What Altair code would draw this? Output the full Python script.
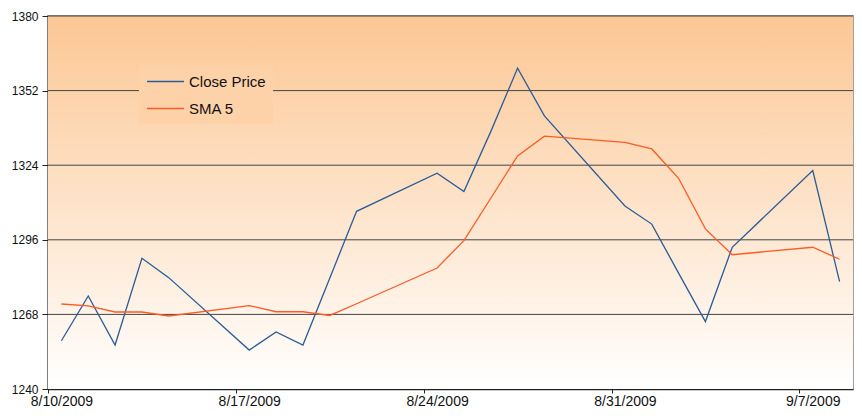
import altair as alt
import pandas as pd

dates = ["8/10/2009", "8/11/2009", "8/12/2009", "8/13/2009", "8/14/2009",
         "8/17/2009", "8/18/2009", "8/19/2009", "8/20/2009", "8/21/2009",
         "8/24/2009", "8/25/2009", "8/26/2009", "8/27/2009", "8/28/2009",
         "8/31/2009", "9/1/2009", "9/2/2009", "9/3/2009", "9/4/2009",
         "9/7/2009", "9/8/2009"]
close_price = [1258.1, 1274.9, 1256.5, 1289.1, 1281.8,
               1254.6, 1261.4, 1256.5, 1281.6, 1306.7,
               1321.0, 1314.1, 1336.6, 1360.4, 1342.5,
               1308.7, 1301.9, 1283.5, 1265.3, 1293.2,
               1322.0, 1280.3]
sma5 = [1271.9, 1271.2, 1268.9, 1268.9, 1267.4,
        1271.3, 1269.0, 1269.0, 1267.6, 1272.0,
        1285.4, 1295.7, 1311.6, 1327.5, 1334.9,
        1332.6, 1330.1, 1319.1, 1300.1, 1290.4,
        1293.2, 1288.7]
series_names = ["Close Price", "SMA 5"]
series_colors = ["#2A5C96", "#FF5A24"]
y_ticks = [1240, 1268, 1296, 1324, 1352, 1380]

rows = []
for d, c, s in zip(dates, close_price, sma5):
    rows.append({"date": d, "series": series_names[0], "value": c})
    rows.append({"date": d, "series": series_names[1], "value": s})
df = pd.DataFrame(rows)
grid_df = pd.DataFrame({"value": y_ticks[1:]})

x_ticks = [alt.DateTime(year=2009, month=8, date=10),
           alt.DateTime(year=2009, month=8, date=17),
           alt.DateTime(year=2009, month=8, date=24),
           alt.DateTime(year=2009, month=8, date=31),
           alt.DateTime(year=2009, month=9, date=7)]

W, H = 805, 373

y_scale = alt.Scale(domain=[1240, 1380], nice=False, zero=False)
x_scale = alt.Scale(domain=[alt.DateTime(year=2009, month=8, date=10),
                            alt.DateTime(year=2009, month=9, date=9)])

gradient = alt.LinearGradient(
    gradient="linear",
    stops=[alt.GradientStop(color="#FCC794", offset=0),
           alt.GradientStop(color="#FFFFFF", offset=1)],
    x1=0, x2=0, y1=0, y2=1)

background = alt.Chart(alt.Data(values=[{}])).mark_rect(color=gradient).encode(
    x=alt.value(0), x2=alt.value(W), y=alt.value(0), y2=alt.value(H)
)

grid = alt.Chart(grid_df).mark_rule(color="#444444", strokeWidth=1).encode(
    y=alt.Y("value:Q", scale=y_scale)
)

lines = alt.Chart(df).transform_calculate(
    t="time(toDate(datum.date)) + 43200000"
).mark_line(strokeWidth=1.3).encode(
    x=alt.X("t:T", scale=x_scale,
            axis=alt.Axis(title=None, values=x_ticks, format="%-m/%-d/%Y",
                          grid=False, labelOffset=13.4, labelFlush=False,
                          tickSize=4, labelPadding=1, labelFontSize=14,
                          labelFont="Liberation Sans")),
    y=alt.Y("value:Q", scale=y_scale,
            axis=alt.Axis(title=None, values=y_ticks, format="d", grid=False,
                          tickSize=6, labelPadding=4, labelFontSize=12,
                          labelFlush=False, labelFont="Liberation Sans")),
    color=alt.Color("series:N",
                    scale=alt.Scale(domain=series_names, range=series_colors),
                    legend=alt.Legend(orient="none", legendX=91, legendY=50,
                                      title=None, symbolType="stroke",
                                      symbolSize=1369, symbolStrokeWidth=1.5,
                                      clipHeight=17,
                                      labelFont="Liberation Sans",
                                      labelFontSize=15, labelOffset=4,
                                      rowPadding=10, padding=7,
                                      fillColor="#FDD2A9", labelColor="#111111")),
    order=alt.Order("t:T")
)

chart = alt.layer(background, grid, lines).properties(
    width=W, height=H,
    padding={"left": 40, "top": 8, "right": 1, "bottom": 21},
    autosize="none"
).configure_view(
    stroke="#A0A0A0", strokeWidth=2
).configure_axis(
    domainColor="#222222", domainWidth=1.5, tickColor="#222222",
    labelColor="#111111"
)

chart.save("out.html", embed_options={"renderer": "svg", "actions": False})
